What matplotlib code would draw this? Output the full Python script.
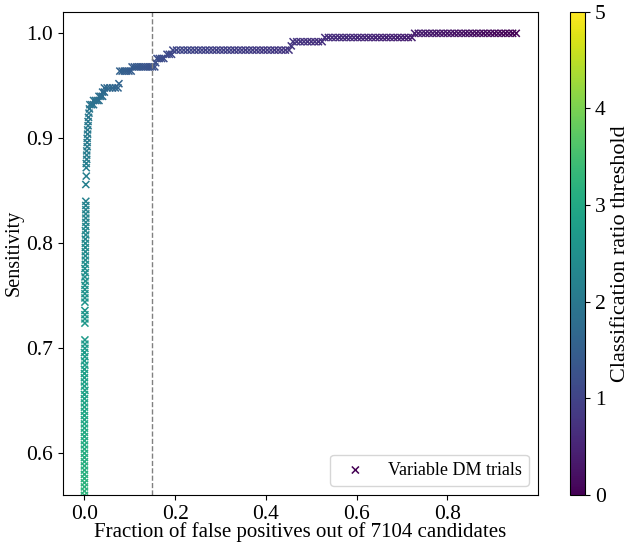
import numpy as np
import matplotlib
matplotlib.use('Agg')
import matplotlib.pyplot as plt

plt.rcParams['font.family'] = ['Liberation Serif', 'DejaVu Serif']
plt.rcParams['mathtext.fontset'] = 'stix'

# vertical part of the curve (fpr ~ 0)
col_sens = [0.560, 0.564, 0.568, 0.572, 0.576, 0.580, 0.584, 0.588, 0.592, 0.596,
            0.600, 0.604, 0.608, 0.612, 0.616, 0.620, 0.624, 0.628, 0.632, 0.636,
            0.640, 0.644, 0.648, 0.652, 0.656, 0.660, 0.664, 0.668, 0.672, 0.676,
            0.680, 0.684, 0.688, 0.692, 0.696, 0.700, 0.704, 0.708,
            0.724, 0.728, 0.732, 0.736,
            0.744, 0.748, 0.752, 0.756, 0.760, 0.764, 0.768, 0.772, 0.776, 0.780,
            0.784, 0.788, 0.792, 0.796, 0.800, 0.804, 0.808, 0.812, 0.816, 0.820,
            0.824, 0.828, 0.832, 0.836, 0.840,
            0.856, 0.864,
            0.872, 0.876, 0.880, 0.884, 0.888, 0.892, 0.896, 0.900, 0.904, 0.908,
            0.912, 0.916, 0.920, 0.924]
col_fpr = [0.000, 0.000, 0.000, 0.000, 0.000, 0.000, 0.000, 0.000, 0.000, 0.000,
           0.000, 0.000, 0.000, 0.000, 0.000, 0.000, 0.000, 0.000, 0.000, 0.000,
           0.000, 0.000, 0.000, 0.000, 0.000, 0.001, 0.000, 0.000, 0.000, 0.000,
           0.000, 0.001, 0.000, 0.001, 0.000, 0.001, 0.001, 0.001,
           0.001, 0.001, 0.001, 0.001,
           0.001, 0.001, 0.001, 0.001, 0.001, 0.002, 0.001, 0.002, 0.001, 0.002,
           0.002, 0.002, 0.002, 0.002, 0.002, 0.002, 0.003, 0.002, 0.003, 0.003,
           0.003, 0.003, 0.003, 0.003, 0.003,
           0.003, 0.004,
           0.004, 0.004, 0.005, 0.005, 0.005, 0.006, 0.006, 0.006, 0.007, 0.007,
           0.008, 0.008, 0.009, 0.010]
col_thr = [3.25, 3.24, 3.22, 3.21, 3.19, 3.18, 3.16, 3.15, 3.13, 3.12,
           3.10, 3.09, 3.07, 3.06, 3.04, 3.03, 3.01, 3.00, 2.98, 2.97,
           2.95, 2.94, 2.92, 2.91, 2.89, 2.88, 2.86, 2.85, 2.83, 2.82,
           2.80, 2.79, 2.77, 2.76, 2.74, 2.73, 2.71, 2.70,
           2.66, 2.64, 2.63, 2.61,
           2.58, 2.57, 2.55, 2.54, 2.52, 2.51, 2.49, 2.48, 2.46, 2.45,
           2.43, 2.42, 2.40, 2.39, 2.37, 2.36, 2.34, 2.33, 2.31, 2.30,
           2.28, 2.27, 2.25, 2.24, 2.22,
           2.16, 2.13,
           2.12, 2.11, 2.10, 2.09, 2.08, 2.07, 2.06, 2.05, 2.04, 2.03,
           2.02, 2.01, 2.00, 1.99]

# knee of the curve
knee_fpr = [0.011, 0.012, 0.016, 0.020, 0.020, 0.024, 0.028, 0.032, 0.032, 0.036,
            0.040, 0.040, 0.044, 0.044, 0.050, 0.056, 0.062, 0.068, 0.074, 0.076,
            0.078, 0.083, 0.088, 0.093, 0.098, 0.103, 0.105, 0.110, 0.115, 0.120,
            0.125, 0.130, 0.135, 0.140, 0.145, 0.150, 0.155, 0.157, 0.160, 0.165,
            0.170, 0.175, 0.182, 0.187, 0.192]
knee_sens = [0.928, 0.932, 0.932, 0.932, 0.936, 0.936, 0.936, 0.936, 0.940, 0.940,
             0.940, 0.944, 0.944, 0.948, 0.948, 0.948, 0.948, 0.948, 0.948, 0.952,
             0.964, 0.964, 0.964, 0.964, 0.964, 0.964, 0.968, 0.968, 0.968, 0.968,
             0.968, 0.968, 0.968, 0.968, 0.968, 0.968, 0.968, 0.972, 0.976, 0.976,
             0.976, 0.976, 0.980, 0.980, 0.980]
knee_thr = [1.97, 1.95, 1.93, 1.91, 1.89, 1.87, 1.85, 1.83, 1.81, 1.79,
            1.77, 1.75, 1.73, 1.71, 1.69, 1.67, 1.65, 1.63, 1.61, 1.59,
            1.56, 1.54, 1.52, 1.50, 1.48, 1.46, 1.44, 1.42, 1.40, 1.38,
            1.36, 1.34, 1.32, 1.30, 1.28, 1.26, 1.24, 1.22, 1.20, 1.18,
            1.16, 1.14, 1.12, 1.10, 1.08]

# plateaus
fpr_984 = [0.195, 0.203, 0.211, 0.219, 0.227, 0.235, 0.243, 0.251, 0.259, 0.267,
           0.275, 0.283, 0.291, 0.299, 0.307, 0.315, 0.323, 0.331, 0.339, 0.347,
           0.355, 0.363, 0.371, 0.379, 0.387, 0.395, 0.403, 0.411, 0.419, 0.427,
           0.435, 0.443, 0.451, 0.456]
thr_984 = [1.06, 1.05, 1.04, 1.04, 1.03, 1.02, 1.01, 1.00, 0.99, 0.99,
           0.98, 0.97, 0.96, 0.95, 0.94, 0.94, 0.93, 0.92, 0.91, 0.90,
           0.89, 0.89, 0.88, 0.87, 0.86, 0.85, 0.84, 0.84, 0.83, 0.82,
           0.81, 0.80, 0.79, 0.785]
sens_984 = [0.984] * 33 + [0.988]

fpr_992 = [0.460, 0.468, 0.476, 0.484, 0.492, 0.500, 0.508, 0.516, 0.524]
thr_992 = [0.77, 0.76, 0.75, 0.74, 0.73, 0.72, 0.71, 0.70, 0.69]

fpr_996 = [0.530, 0.538, 0.546, 0.554, 0.562, 0.570, 0.578, 0.586, 0.594, 0.602,
           0.610, 0.618, 0.626, 0.634, 0.642, 0.650, 0.658, 0.666, 0.674, 0.682,
           0.690, 0.698, 0.706, 0.714, 0.722]
thr_996 = [0.68, 0.67, 0.66, 0.65, 0.64, 0.63, 0.62, 0.61, 0.60, 0.59,
           0.58, 0.57, 0.56, 0.55, 0.54, 0.53, 0.52, 0.51, 0.50, 0.49,
           0.48, 0.47, 0.46, 0.45, 0.44]

fpr_100 = [0.728, 0.736, 0.744, 0.752, 0.760, 0.768, 0.776, 0.784, 0.792, 0.800,
           0.808, 0.816, 0.824, 0.832, 0.840, 0.848, 0.856, 0.864, 0.872, 0.880,
           0.888, 0.896, 0.904, 0.912, 0.920, 0.928, 0.936, 0.944, 0.952]
thr_100 = [0.43, 0.41, 0.40, 0.38, 0.37, 0.35, 0.34, 0.32, 0.31, 0.29,
           0.28, 0.26, 0.25, 0.23, 0.22, 0.20, 0.19, 0.17, 0.16, 0.14,
           0.13, 0.11, 0.10, 0.08, 0.07, 0.05, 0.04, 0.02, 0.00]

fpr = np.concatenate([col_fpr, knee_fpr, fpr_984, fpr_992, fpr_996, fpr_100])
sens = np.concatenate([col_sens, knee_sens, sens_984, [0.992] * len(fpr_992),
                       [0.996] * len(fpr_996), [1.0] * len(fpr_100)])
thr = np.concatenate([col_thr, knee_thr, thr_984, thr_992, thr_996, thr_100])

fig = plt.figure(figsize=(6.3, 5.43), dpi=100)
ax = fig.add_axes([0.0995, 0.0884, 0.7545, 0.8901])
cax = fig.add_axes([0.905, 0.0884, 0.024, 0.8901])

sc = ax.scatter(fpr, sens, c=thr, cmap='viridis', vmin=0, vmax=5, marker='x',
                s=26, linewidths=1.1, label='Variable DM trials')
ax.axvline(0.15, color='grey', linestyle='--', linewidth=1)

ax.set_xlim(-0.048, 1.0)
ax.set_ylim(0.5603, 1.0206)
ax.set_xticks([0.0, 0.2, 0.4, 0.6, 0.8])
ax.set_yticks([0.6, 0.7, 0.8, 0.9, 1.0])
ax.tick_params(labelsize=15.5)
ax.set_xlabel('Fraction of false positives out of 7104 candidates', fontsize=15, labelpad=-1)
ax.set_ylabel('Sensitivity', fontsize=14.5, labelpad=2)

leg = ax.legend(loc='lower right', fontsize=13)
leg.legend_handles[0].set_color(plt.cm.viridis(0.0))

cb = fig.colorbar(sc, cax=cax)
cb.set_ticks([0, 1, 2, 3, 4, 5])
cb.ax.tick_params(labelsize=15.5)
cb.set_label('Classification ratio threshold', fontsize=16)

fig.savefig('out.png', dpi=100)
